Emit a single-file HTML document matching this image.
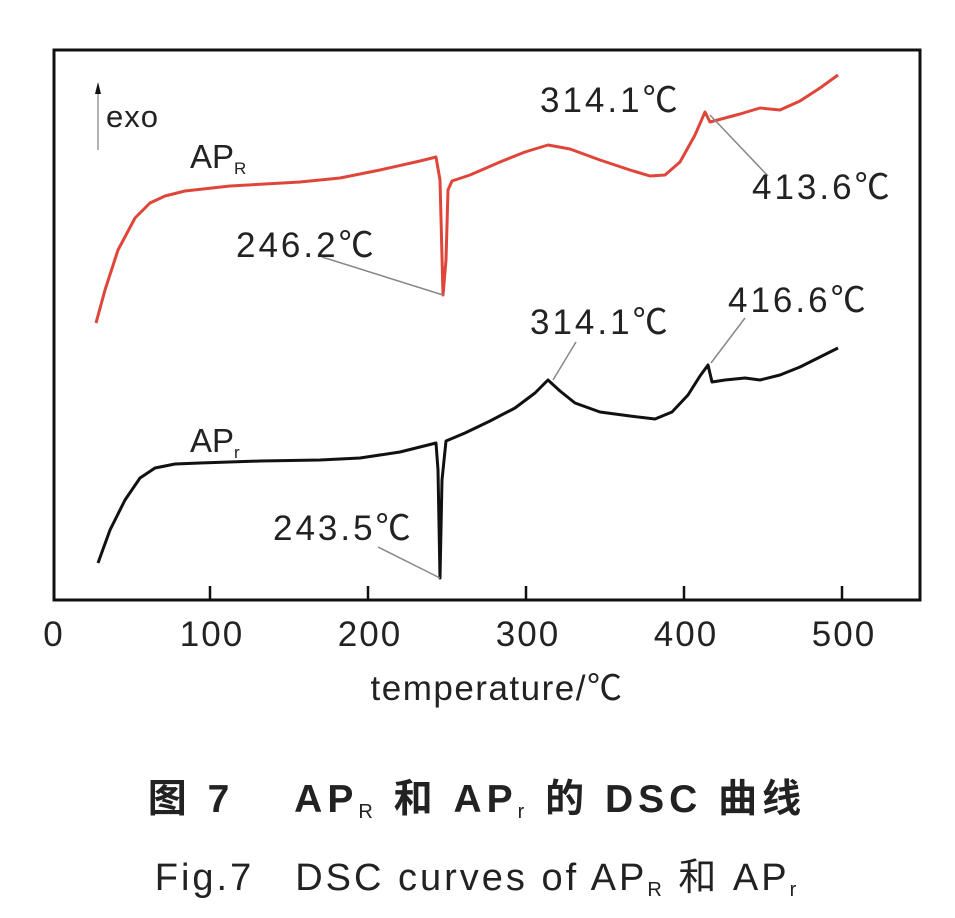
<!DOCTYPE html>
<html><head><meta charset="utf-8"><style>
body{margin:0;background:#fff;width:955px;height:913px;overflow:hidden}
svg text{font-family:"Liberation Sans","Noto Sans CJK SC",sans-serif;fill:#222}
</style></head><body>
<svg width="955" height="913" viewBox="0 0 955 913">
<rect x="54" y="50" width="866" height="550" fill="none" stroke="#111" stroke-width="3"/>
<g stroke="#111" stroke-width="2.5">
<line x1="210" y1="600" x2="210" y2="586"/><line x1="368" y1="600" x2="368" y2="586"/>
<line x1="526" y1="600" x2="526" y2="586"/><line x1="684" y1="600" x2="684" y2="586"/>
<line x1="842" y1="600" x2="842" y2="586"/>
</g>
<g font-size="35" text-anchor="middle" letter-spacing="2">
<text x="54" y="646">0</text><text x="212" y="646">100</text><text x="370" y="646">200</text>
<text x="528" y="646">300</text><text x="686" y="646">400</text><text x="844" y="646">500</text>
<text x="497" y="700" letter-spacing="1.5">temperature/℃</text>
</g>
<line x1="98" y1="150" x2="98" y2="92" stroke="#999" stroke-width="1.5"/>
<polygon points="98,82 95,94 101,94" fill="#111"/>
<text x="106" y="127" font-size="31" letter-spacing="1">exo</text>
<text x="190" y="168" font-size="33">AP<tspan font-size="17" dy="6">R</tspan></text>
<text x="190" y="452" font-size="33">AP<tspan font-size="17" dy="6">r</tspan></text>
<polyline fill="none" stroke="#e0453a" stroke-width="3" stroke-linejoin="round" points="96,323 105,290 118,250 135,218 150,203 165,196 185,191 230,186 300,182 340,178 380,170 420,161 436,157 440,180 443,295 446,260 448,190 452,181 470,175 500,162 525,152 548,145 570,149 600,160 630,170 650,176 665,175 680,162 695,135 705,112 710,122 725,118 740,114 760,108 780,110 800,101 820,88 838,75"/>
<polyline fill="none" stroke="#111" stroke-width="3" stroke-linejoin="round" points="98,563 110,530 125,500 140,478 155,468 175,464 200,463 260,461 320,460 360,458 400,452 436,443 438,470 440,578 442,480 446,441 465,433 490,421 515,408 535,393 548,380 560,391 575,403 600,412 630,416 655,419 672,412 688,395 700,376 708,365 712,382 725,380 745,378 760,380 780,375 800,367 820,357 838,348"/>
<g stroke="#888" stroke-width="1.5">
<line x1="322" y1="257" x2="443" y2="295"/>
<line x1="710" y1="115" x2="768" y2="176"/>
<line x1="553" y1="380" x2="576" y2="342"/>
<line x1="711" y1="363" x2="745" y2="318"/>
<line x1="378" y1="547" x2="440" y2="578"/>
</g>
<g font-size="35" letter-spacing="3">
<text x="540" y="112">314.1℃</text>
<text x="752" y="199">413.6℃</text>
<text x="236" y="257">246.2℃</text>
<text x="530" y="334">314.1℃</text>
<text x="728" y="312">416.6℃</text>
<text x="273" y="540">243.5℃</text>
</g>
<text x="477" y="812" font-size="39" font-weight="bold" text-anchor="middle" letter-spacing="5">图 7　 AP<tspan font-size="20" dy="6" font-weight="normal">R</tspan><tspan dy="-6"> 和 AP</tspan><tspan font-size="20" dy="6" font-weight="normal">r</tspan><tspan dy="-6"> 的 DSC 曲线</tspan></text>
<text x="477" y="890" font-size="38" text-anchor="middle" letter-spacing="3">Fig.7　DSC curves of AP<tspan font-size="20" dy="6">R</tspan><tspan dy="-6"> 和 AP</tspan><tspan font-size="20" dy="6">r</tspan></text>
</svg>
</body></html>
